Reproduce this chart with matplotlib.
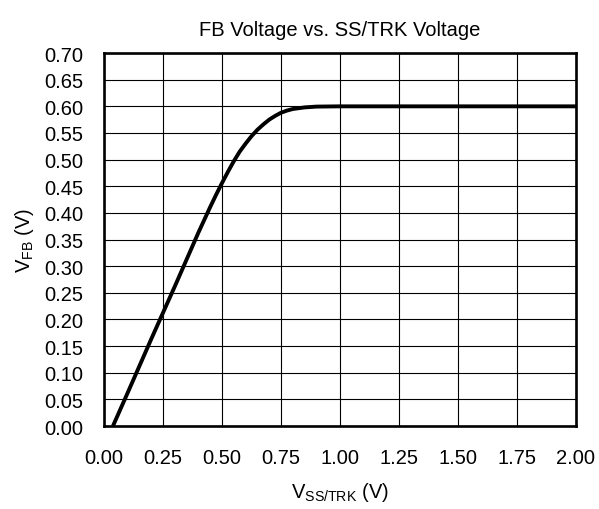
import matplotlib
matplotlib.use('Agg')
matplotlib.rcParams['font.family'] = ['Liberation Sans', 'DejaVu Sans']
matplotlib.rcParams['mathtext.default'] = 'regular'
matplotlib.rcParams['font.size'] = 14.5
import matplotlib.pyplot as plt
import numpy as np

# FB voltage vs SS/TRK voltage
v_sstrk = [0.038, 0.10, 0.20, 0.30, 0.40, 0.45, 0.475, 0.50, 0.525, 0.55, 0.575, 0.60, 0.625,
           0.65, 0.675, 0.70, 0.725, 0.75, 0.775, 0.80, 0.85, 0.90, 1.00, 1.50, 2.00]
v_fb = [0.000, 0.062, 0.163, 0.262, 0.363, 0.411, 0.434, 0.456, 0.477, 0.497, 0.515, 0.530, 0.544,
        0.556, 0.566, 0.575, 0.582, 0.588, 0.592, 0.595, 0.598, 0.5995, 0.600, 0.600, 0.600]

x_ticks = np.arange(0, 2.01, 0.25)
y_ticks = np.arange(0, 0.701, 0.05)


def draw():
    fig = plt.figure(figsize=(5.99, 5.10), dpi=100)
    ax = fig.add_axes([0.1736, 0.1627, 0.788, 0.7313])

    ax.plot(v_sstrk, v_fb, color='black', lw=2.8, solid_capstyle='butt')

    ax.set_xlim(0, 2)
    ax.set_ylim(0, 0.7)
    ax.set_xticks(x_ticks)
    ax.set_yticks(y_ticks)
    ax.set_xticklabels(['%.2f' % t for t in x_ticks])
    ax.set_yticklabels(['%.2f' % t for t in y_ticks])
    ax.tick_params(axis='x', length=0, pad=16)
    ax.tick_params(axis='y', length=0, pad=15)
    ax.grid(True, color='black', lw=0.8)
    ax.set_axisbelow(True)
    for s in ax.spines.values():
        s.set_linewidth(1.9)

    ax.set_title('FB Voltage vs. SS/TRK Voltage', fontsize=14.5, pad=13)
    ax.set_xlabel('V$_{SS/TRK}$ (V)', labelpad=9)
    ax.set_ylabel('V$_{FB}$ (V)', labelpad=6)

    fig.savefig('out.png', dpi=100)


if __name__ == "__main__":
    draw()
